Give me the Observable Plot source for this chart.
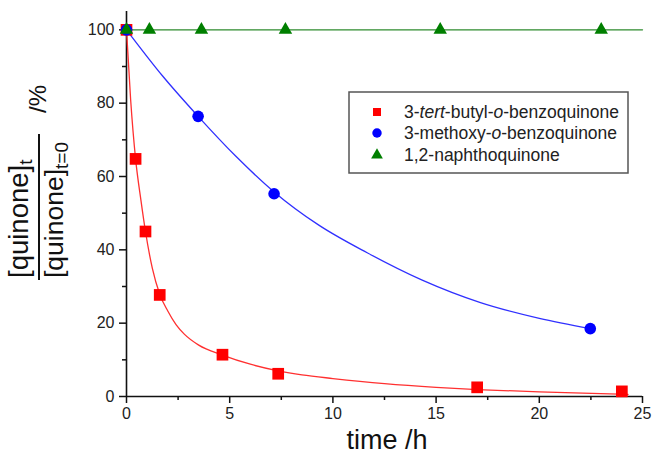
<!DOCTYPE html>
<html><head><meta charset="utf-8">
<script src="https://cdn.jsdelivr.net/npm/d3@7"></script>
<script src="https://cdn.jsdelivr.net/npm/@observablehq/plot@0.6"></script>
<style>html,body{margin:0;padding:0;background:#fff}</style>
</head><body><div id="chart"></div>
<script>
// ---- data ----
const seriesNames = ["3-tert-butyl-o-benzoquinone", "3-methoxy-o-benzoquinone", "1,2-naphthoquinone"];
const seriesColors = ["#ff0000", "#0000ff", "#007f00"];
const lineColors = ["#ff3030", "#3030ff", "#2e8b2e"];

// measured points
const tbuT = [0, 0.44, 0.92, 1.61, 4.65, 7.35, 16.99, 24.0];
const tbuY = [100, 64.8, 45.0, 27.7, 11.4, 6.2, 2.5, 1.4];
const meoT = [0, 3.47, 7.15, 22.47];
const meoY = [100, 76.4, 55.3, 18.5];
const napT = [0, 1.11, 3.63, 7.70, 15.20, 23.0];
const napY = [100, 100, 100, 100, 100, 100];

// fitted curves
const tbuFitT = [0, 0.2, 0.44, 0.7, 0.92, 1.25, 1.61, 2.0, 2.4, 2.8, 3.5, 4.65, 6.0, 7.35, 8.5, 10, 12.5, 15, 17, 20, 22.1, 24.3];
const tbuFitY = [100, 81, 64.8, 53.5, 45, 35, 27.9, 23.3, 19.6, 17.0, 14.0, 11.3, 8.8, 7.0, 5.9, 4.9, 3.5, 2.5, 1.9, 1.25, 0.9, 0.6];
const meoFitT = [0, 1.75, 3.47, 5.3, 7.15, 9.3, 11.66, 14.3, 17.15, 20, 22.47];
const meoFitY = [100, 87.4, 76.4, 65.5, 55.8, 46.8, 39.2, 31.8, 25.6, 21.3, 18.5];
const napFitT = [0, 25];
const napFitY = [100, 100];

// axes
const xMajor = [0, 5, 10, 15, 20, 25];
const xMinor = [2.5, 7.5, 12.5, 17.5, 22.5];
const yMajor = [0, 20, 40, 60, 80, 100];
const yMinor = [10, 30, 50, 70, 90];

const toRows = (ts, ys) => ts.map((t, i) => ({t, y: ys[i]}));
const tbu = toRows(tbuT, tbuY), meo = toRows(meoT, meoY), nap = toRows(napT, napY);
const tbuFit = toRows(tbuFitT, tbuFitY), meoFit = toRows(meoFitT, meoFitY), napFit = toRows(napFitT, napFitY);

const font = "'Liberation Sans', Arial, sans-serif";

const svg = Plot.plot({
  width: 652, height: 454,
  marginLeft: 126, marginRight: 10, marginTop: 11, marginBottom: 58,
  x: {domain: [0, 25]},
  y: {domain: [0, 105]},
  style: {fontFamily: font, fontSize: "16px", color: "#222", background: "#fff", overflow: "visible"},
  marks: [
    Plot.axisX({ticks: xMinor, tickSize: 4, text: null, label: null, stroke: "#111", strokeWidth: 1.5}),
    Plot.axisX({ticks: xMajor, tickSize: 7, tickPadding: 4, label: null, stroke: "#111", strokeWidth: 1.5, fontSize: 16, fill: "#222"}),
    Plot.axisY({ticks: yMinor, tickSize: 4, text: null, label: null, stroke: "#111", strokeWidth: 1.5}),
    Plot.axisY({ticks: yMajor, tickSize: 7, tickPadding: 5, label: null, stroke: "#111", strokeWidth: 1.5, fontSize: 16, fill: "#222"}),
    Plot.ruleY([0], {stroke: "#111", strokeWidth: 1.6}),
    Plot.ruleX([0], {stroke: "#111", strokeWidth: 1.6}),
    Plot.line(tbuFit, {x: "t", y: "y", stroke: lineColors[0], strokeWidth: 1.3, curve: "monotone-x"}),
    Plot.line(meoFit, {x: "t", y: "y", stroke: lineColors[1], strokeWidth: 1.3, curve: "monotone-x"}),
    Plot.line(napFit, {x: "t", y: "y", stroke: lineColors[2], strokeWidth: 1.3}),
    Plot.dot(tbu, {x: "t", y: "y", symbol: "square", r: 6.6, fill: seriesColors[0], stroke: "none"}),
    Plot.dot(meo, {x: "t", y: "y", symbol: "circle", r: 5.8, fill: seriesColors[1], stroke: "none"}),
    Plot.dot(nap, {x: "t", y: "y", symbol: "triangle", r: 5.0, fill: seriesColors[2], stroke: "none"})
  ]
});

const s = d3.select(svg);
// x label
s.append("text").attr("x", 387).attr("y", 449).attr("text-anchor", "middle")
  .attr("font-family", font).attr("font-size", 27).attr("fill", "#111").text("time /h");

// y label: fraction
const yl = s.append("g").attr("font-family", font).attr("fill", "#111").attr("text-anchor", "start");
const num = yl.append("text").attr("transform", "translate(28,278) rotate(-90)").attr("font-size", 27.5);
num.append("tspan").text("[quinone]");
num.append("tspan").attr("font-size", 19).attr("dy", 4).text("t");
const den = yl.append("text").attr("transform", "translate(63,278) rotate(-90)").attr("font-size", 26.5);
den.append("tspan").text("[quinone]");
den.append("tspan").attr("font-size", 19).attr("dy", 5).text("t=0");
yl.append("line").attr("x1", 39).attr("x2", 39).attr("y1", 134).attr("y2", 280)
  .attr("stroke", "#111").attr("stroke-width", 2);
yl.append("text").attr("transform", "translate(46,113) rotate(-90)").attr("font-size", 24).text("/%");

// legend
const lg = s.append("g").attr("font-family", font).attr("text-anchor", "start");
lg.append("rect").attr("x", 349).attr("y", 92).attr("width", 279).attr("height", 81)
  .attr("fill", "#fff").attr("stroke", "#555").attr("stroke-width", 1.5);
const rowsY = [112, 133, 155];
const sym = [d3.symbolSquare, d3.symbolCircle, d3.symbolTriangle];
const symSize = [64, 70, 60];
const labelParts = [
  [["3-", false], ["tert", true], ["-butyl-", false], ["o", true], ["-benzoquinone", false]],
  [["3-methoxy-", false], ["o", true], ["-benzoquinone", false]],
  [["1,2-naphthoquinone", false]]
];
seriesNames.forEach((name, i) => {
  lg.append("path").attr("d", d3.symbol(sym[i], symSize[i])())
    .attr("transform", `translate(377,${rowsY[i]})`).attr("fill", seriesColors[i]);
  const t = lg.append("text").attr("x", 404).attr("y", rowsY[i]).attr("dy", "0.36em")
    .attr("font-size", 17.5).attr("fill", "#222");
  labelParts[i].forEach(([txt, it]) => {
    const sp = t.append("tspan").text(txt);
    if (it) sp.attr("font-style", "italic");
  });
});

document.getElementById("chart").appendChild(svg);
</script>
</body></html>
